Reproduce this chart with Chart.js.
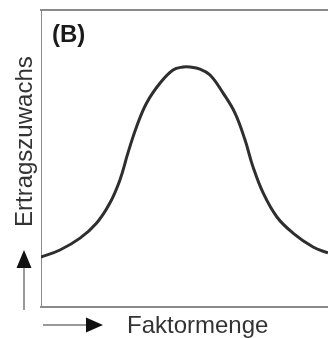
<!DOCTYPE html>
<html>
<head>
<meta charset="utf-8">
<script src="https://cdn.jsdelivr.net/npm/chart.js@4"></script>
<style>
  body { margin: 0; background: #fff; }
  #wrap { width: 328px; height: 338px; }
</style>
</head>
<body>
<div id="wrap"><canvas id="myChart"></canvas></div>
<script>
// Var for the curve
var faktormenge = [0, 6.6, 13.6, 19.4, 24, 27.5, 30.3, 33.3, 36.8, 41.5, 46, 49.5, 51.9, 55.4, 58.9, 63.4, 67.6, 71.1, 73.9, 77.4, 82.2, 87.8, 94.8, 100];
var ertragszuwachs = [16.8, 19.2, 23.2, 28.3, 35, 42.8, 51.9, 60.7, 68.7, 75.4, 79.8, 80.8, 80.8, 80.1, 78.1, 72.1, 65.3, 56.2, 47.1, 38.4, 30.3, 24.9, 20.2, 18.2];

var panelLabel = '(B)';
var xTitle = 'Faktormenge';
var yTitle = 'Ertragszuwachs';

var points = [];
for (var i = 0; i < faktormenge.length; i++) {
  points.push({ x: faktormenge[i], y: ertragszuwachs[i] });
}

// arrows, axis labels and panel letter around the chart area
var decoPlugin = {
  id: 'deco',
  afterDraw: function (chart) {
    var c = chart.ctx;
    var a = chart.chartArea;
    c.save();

    // panel letter
    c.fillStyle = '#1a1a1a';
    c.font = 'bold 24px "Liberation Sans", Arial, sans-serif';
    c.textBaseline = 'alphabetic';
    c.textAlign = 'left';
    c.fillText(panelLabel, a.left + 11, a.top + 32);

    // x title with arrow
    c.fillStyle = '#333';
    c.font = '24px "Liberation Sans", Arial, sans-serif';
    c.fillText(xTitle, a.left + 86, a.bottom + 26);

    c.strokeStyle = '#777';
    c.lineWidth = 1.5;
    c.beginPath();
    c.moveTo(a.left + 2, a.bottom + 18);
    c.lineTo(a.left + 48, a.bottom + 18);
    c.stroke();
    c.fillStyle = '#111';
    c.beginPath();
    c.moveTo(a.left + 62, a.bottom + 18);
    c.lineTo(a.left + 45, a.bottom + 10.5);
    c.lineTo(a.left + 45, a.bottom + 25.5);
    c.closePath();
    c.fill();

    // y title with arrow
    c.save();
    c.translate(a.left - 9, a.bottom - 80);
    c.rotate(-Math.PI / 2);
    c.fillStyle = '#333';
    c.fillText(yTitle, 0, 0);
    c.restore();

    c.strokeStyle = '#777';
    c.beginPath();
    c.moveTo(a.left - 17, a.bottom + 3);
    c.lineTo(a.left - 17, a.bottom - 42);
    c.stroke();
    c.fillStyle = '#111';
    c.beginPath();
    c.moveTo(a.left - 17, a.bottom - 57);
    c.lineTo(a.left - 24.5, a.bottom - 39);
    c.lineTo(a.left - 9.5, a.bottom - 39);
    c.closePath();
    c.fill();

    c.restore();
  }
};

var ctx = document.getElementById('myChart');
var myChart = new Chart(ctx, {
  type: 'line',
  data: {
    datasets: [
      {
        data: points,
        borderColor: '#2e2e2e',
        borderWidth: 3,
        pointRadius: 0,
        fill: false,
        tension: 0.4
      }
    ]
  },
  options: {
    responsive: true,
    maintainAspectRatio: false,
    animation: false,
    layout: { padding: { left: 41, top: 10, bottom: 31, right: 0 } },
    plugins: {
      legend: { display: false },
      tooltip: { enabled: false }
    },
    scales: {
      x: {
        type: 'linear',
        min: 0,
        max: 100,
        ticks: { display: false },
        grid: { display: false, drawTicks: false },
        border: { display: true, color: '#8a8a8a', width: 2 }
      },
      x2: {
        type: 'linear',
        position: 'top',
        min: 0,
        max: 100,
        ticks: { display: false },
        grid: { display: false, drawTicks: false },
        border: { display: true, color: '#8a8a8a', width: 2 }
      },
      y: {
        min: 0,
        max: 100,
        ticks: { display: false },
        grid: { display: false, drawTicks: false },
        border: { display: true, color: '#8a8a8a', width: 1 }
      }
    }
  },
  plugins: [decoPlugin]
});
</script>
</body>
</html>
